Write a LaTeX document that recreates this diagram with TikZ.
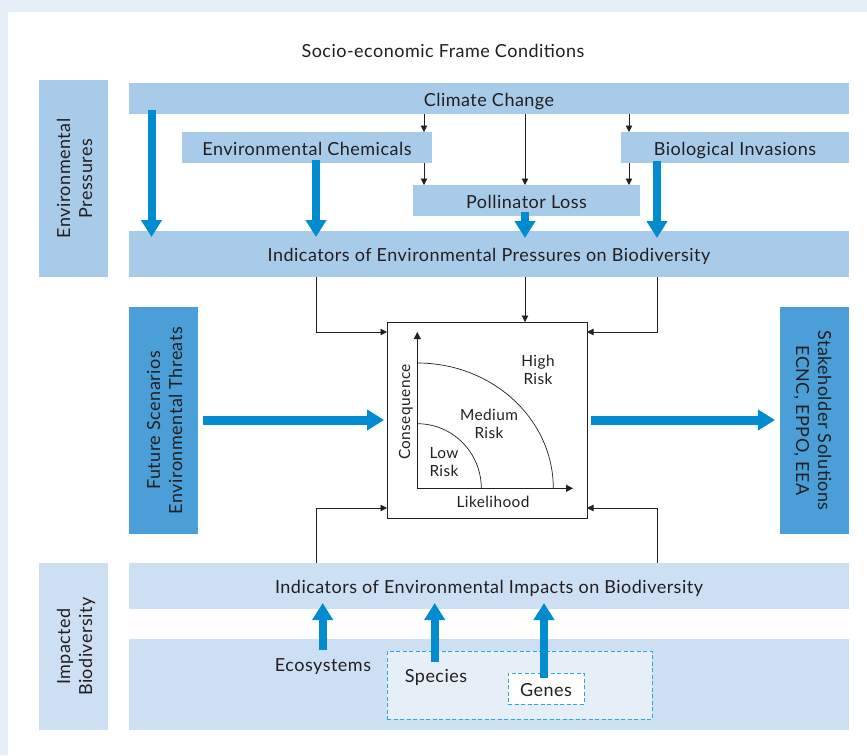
\documentclass[tikz,border=0pt]{standalone}
\usepackage{fontspec}
\setmainfont{Lato}[LetterSpace=2.7]
\usetikzlibrary{arrows.meta,calc}
\definecolor{pagebg}{HTML}{E6EEF8}
\definecolor{pressure}{HTML}{A9CBEA}
\definecolor{impact}{HTML}{CDDFF2}
\definecolor{scenario}{HTML}{4A9FD8}
\definecolor{flow}{HTML}{008CCF}
\definecolor{dashc}{HTML}{2BA6E0}
\definecolor{ink}{HTML}{231F20}
\tikzset{
  every node/.style={text=ink,font=\fontsize{18}{22}\selectfont,inner sep=0pt,outer sep=0pt,text height=15pt,text depth=0pt},
  pband/.style={fill=pressure},
  iband/.style={fill=impact},
  sband/.style={fill=scenario},
  two lines/.style={align=center,text height=37pt},
  small/.style={font=\fontsize{15.4}{18}\selectfont,align=center,text height=12pt},
  small two/.style={small,text height=30pt},
  thin arrow/.style={draw=ink,line width=0.8pt,-{Triangle[width=6.5pt,length=6.5pt]}},
  flow arrow/.style={draw=flow,line width=8pt,-{Triangle[width=20pt,length=17pt]}},
  flow wide/.style={draw=flow,line width=9pt,-{Triangle[width=20pt,length=17pt]}},
  dash box/.style={draw=dashc,line width=0.8pt,dash pattern=on 4pt off 2.5pt},
  axis/.style={draw=ink,line width=0.8pt,-{Triangle[width=7pt,length=7pt]}},
  curve/.style={draw=ink,line width=0.7pt},
}
\begin{document}
\begin{tikzpicture}[x=1pt,y=-1pt]
\useasboundingbox (0,0) rectangle (867,755);
\fill[pagebg] (0,0) rectangle (867,755);
\fill[white] (8,12) rectangle (867,755);
% title
\node (title) at (443,50) {Socio-economic Frame Conditions};
% side bands
\node[pband,minimum width=197pt,minimum height=69pt,rotate=90,two lines] (envp) at (73.5,178.5) {Environmental\\Pressures};
\node[iband,minimum width=167pt,minimum height=69pt,rotate=90,two lines] (impb) at (73.5,646.5) {Impacted\\Biodiversity};
% pressures
\node[pband,minimum width=720pt,minimum height=31pt] (clim) at (489,98.5) {Climate Change};
\node[pband,minimum width=250pt,minimum height=31pt] (chem) at (307,147.5) {Environmental Chemicals};
\node[pband,minimum width=228pt,minimum height=31pt] (bio) at (735,147.5) {Biological Invasions};
\node[pband,minimum width=227pt,minimum height=31pt] (poll) at (526.5,200.5) {Pollinator Loss};
\node[pband,minimum width=720pt,minimum height=46pt] (indp) at (489,254) {Indicators of Environmental Pressures on Biodiversity};
% scenarios
\node[sband,minimum width=227pt,minimum height=69pt,rotate=90,two lines] (future) at (163.5,420.5) {Future Scenarios\\Environmental Threats};
\node[sband,minimum width=227pt,minimum height=69pt,rotate=-90,two lines] (stake) at (814.5,420.5) {Stakeholder Solutions\\ECNC, EPPO, EEA};
% risk matrix
\node[draw=ink,fill=white,line width=0.9pt,minimum width=200pt,minimum height=196pt] (risk) at (487,420) {};
\coordinate (orig) at (417.3,488.3);
\coordinate (ytop) at (417.3,332);
\coordinate (xend) at (573,488.3);
\draw[axis] (orig) -- (ytop);
\draw[axis] (orig) -- (xend);
\draw[curve] (417.3,363) arc[start angle=90,end angle=0,x radius=136pt,y radius=125.3pt];
\draw[curve] (417.3,423.7) arc[start angle=90,end angle=0,x radius=64pt,y radius=64.6pt];
\node[small two] (high) at (538,369) {High\\Risk};
\node[small two] (med) at (489,423) {Medium\\Risk};
\node[small two] (low) at (444,461) {Low\\Risk};
\node[small,rotate=90] (cons) at (404,412) {Consequence};
\node[small] (like) at (493,501) {Likelihood};
% impacts
\node[iband,minimum width=720pt,minimum height=46pt] (indi) at (489,586) {Indicators of Environmental Impacts on Biodiversity};
\node[iband,minimum width=720pt,minimum height=91pt] (base) at (489,684.5) {};
\node[dash box,fill=pagebg,minimum width=265pt,minimum height=68pt] (spbox) at (519.5,685) {};
\node[dash box,fill=white,minimum width=76pt,minimum height=31pt] (genes) at (546,688.5) {Genes};
\node (eco) at (323,664) {Ecosystems};
\node (species) at (436,675) {Species};
% x positions of connectors
\coordinate (xa) at (424,0);
\coordinate (xb) at (525,0);
\coordinate (xc) at (629,0);
\coordinate (xl) at (316,0);
\coordinate (xr) at (657,0);
\coordinate (ytopin) at (0,332);
\coordinate (ybotin) at (0,508);
% thin connectors
\draw[thin arrow] (clim.south -| xa) -- (chem.north -| xa);
\draw[thin arrow] (chem.south -| xa) -- (poll.north -| xa);
\draw[thin arrow] (clim.south -| xb) -- (poll.north -| xb);
\draw[thin arrow] (clim.south -| xc) -- (bio.north -| xc);
\draw[thin arrow] (bio.south -| xc) -- (poll.north -| xc);
\draw[thin arrow] (indp.south -| xb) -- (risk.north -| xb);
\draw[thin arrow] (indp.south -| xl) -- (xl |- ytopin) -- (risk.west |- ytopin);
\draw[thin arrow] (indp.south -| xr) -- (xr |- ytopin) -- (risk.east |- ytopin);
\draw[thin arrow] (indi.north -| xl) -- (xl |- ybotin) -- (risk.west |- ybotin);
\draw[thin arrow] (indi.north -| xr) -- (xr |- ybotin) -- (risk.east |- ybotin);
% flow arrows
\coordinate (fa) at (151.5,0);
\coordinate (fb) at (316,0);
\coordinate (fe) at (322.7,0);
\coordinate (fs) at (434.7,0);
\coordinate (fg) at (544,0);
\draw[flow arrow] ($(clim.south -| fa)+(0,-4)$) -- ($(indp.north -| fa)+(0,6)$);
\draw[flow arrow] ($(chem.south -| fb)+(0,-3)$) -- ($(indp.north -| fb)+(0,6)$);
\draw[flow arrow] ($(poll.south -| xb)+(0,-4)$) -- ($(indp.north -| xb)+(0,7)$);
\draw[flow arrow] ($(bio.south -| xr)+(0,-2)$) -- ($(indp.north -| xr)+(0,7)$);
\draw[flow wide] ($(future.south)+(5,-0.5)$) -- ($(risk.west)+(-3,0)$);
\draw[flow wide] ($(risk.east)+(4,0)$) -- ($(stake.south)+(-5,-0.5)$);
\draw[flow arrow] ($(base.north -| fe)+(0,11)$) -- ($(indi.south -| fe)+(0,-6)$);
\draw[flow arrow] ($(spbox.north -| fs)+(0,11)$) -- ($(indi.south -| fs)+(0,-6)$);
\draw[flow arrow] ($(genes.north -| fg)+(0,5)$) -- ($(indi.south -| fg)+(0,-6)$);
\end{tikzpicture}
\end{document}
